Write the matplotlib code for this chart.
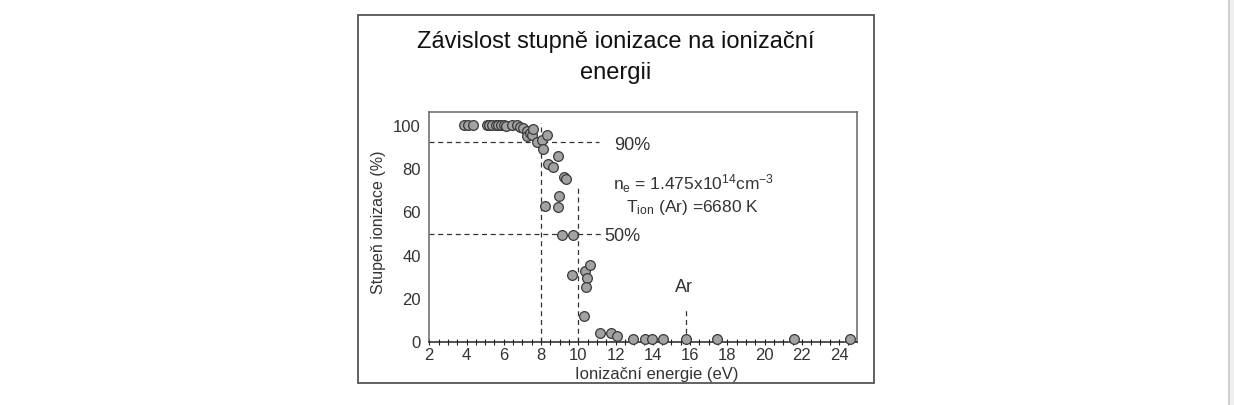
import matplotlib.pyplot as plt
from matplotlib.patches import Rectangle
from matplotlib.ticker import MultipleLocator

plt.rcParams['font.family'] = ['Liberation Sans', 'DejaVu Sans']

# ionizacni energie prvku (eV) a stupen ionizace (%)
energie = [3.87, 4.10, 4.34, 5.10, 5.21, 5.39, 5.57, 5.69, 5.85, 6.0, 6.11,
           6.42, 6.69, 6.87, 7.05, 7.23, 7.23, 7.4, 7.5, 7.58, 7.76, 8.03,
           8.09, 8.3, 8.23, 8.39, 8.66, 8.92, 8.98, 8.92, 9.23, 9.32, 9.1,
           9.73, 9.64, 10.36, 10.63, 10.45, 10.4, 10.32, 11.16, 11.74, 12.06,
           12.92, 13.58, 13.94, 14.53, 15.76, 17.42, 21.56, 24.59]
stupen = [100, 100, 100, 100, 100, 100, 100, 100, 99.8, 99.7, 99.6,
          99.9, 99.8, 98.8, 98.3, 97, 94.6, 96, 95.5, 98, 92, 93,
          88.7, 95.5, 62.4, 82, 80.4, 85.6, 67.3, 61.9, 75.8, 75, 49.3,
          49.3, 30.7, 32.7, 35.3, 29.3, 25, 11.9, 3.9, 3.9, 2.7,
          1.2, 1.2, 1.2, 1.2, 1.2, 1.2, 1.2, 1.2]

# vodici cary: (uroven, konec, popisek)
hladiny = [(92, 11.1, '90%'), (49.6, 11.2, '50%')]
svisle = [(8, 100.8), (10, 72), (15.76, 16)]

W, H = 1234, 406
fig = plt.figure(figsize=(W / 100, H / 100), dpi=100)
fig.patch.set_facecolor('white')

# ramecek kolem celeho grafu
fig.patches.append(Rectangle((358 / W, 1 - 384 / H), (874 - 358) / W, (384 - 16) / H,
                             transform=fig.transFigure, fill=False,
                             edgecolor='#555555', linewidth=1.3))
# okraj stranky vpravo
fig.patches.append(Rectangle((1229 / W, 0), 5 / W, 1, transform=fig.transFigure,
                             facecolor='#efefef', edgecolor='none'))
fig.lines.append(plt.Line2D([1229 / W, 1229 / W], [0, 1], transform=fig.transFigure,
                            color='#c8c8c8', linewidth=1.2))

ax = fig.add_axes([429.3 / W, 1 - 342.5 / H, (857 - 429.3) / W, (342.5 - 113) / H])
ax.set_xlim(2, 24.96)
ax.set_ylim(0, 105.9)

for sp in ['left', 'top', 'right']:
    ax.spines[sp].set_color('#666666')
    ax.spines[sp].set_linewidth(1.1)
ax.spines['bottom'].set_color('#222222')
ax.spines['bottom'].set_linewidth(1.1)

ax.xaxis.set_major_locator(MultipleLocator(2))
ax.xaxis.set_minor_locator(MultipleLocator(0.5))
ax.yaxis.set_major_locator(MultipleLocator(20))
ax.tick_params(axis='x', which='both', direction='inout', length=4, width=0.8,
               color='#222222', labelsize=12, labelcolor='#333333', pad=2)
ax.tick_params(axis='y', length=0, labelsize=12, labelcolor='#333333', pad=6)

dash = dict(color='#333333', linewidth=0.9, linestyle=(0, (4, 3)), zorder=1)
for uroven, konec, popisek in hladiny:
    ax.plot([2, konec], [uroven, uroven], **dash)
for x, vyska in svisle:
    ax.plot([x, x], [0, vyska], **dash)

ax.plot(energie, stupen, 'o', ms=7, mfc='#a2a2a2', mec='#3a3a3a', mew=0.9,
        zorder=3, clip_on=False)

ax.text(12.9, 91, '90%', fontsize=13, color='#333333', ha='center', va='center')
ax.text(12.35, 48.7, '50%', fontsize=13, color='#333333', ha='center', va='center')
ax.text(15.66, 25.6, 'Ar', fontsize=13, color='#333333', ha='center', va='center')
ax.text(16.2, 73.5, r'$\mathregular{n_e}$ = 1.475x10$\mathregular{^{14}}$cm$\mathregular{^{-3}}$',
        fontsize=12.5, color='#333333', ha='center', va='center')
ax.text(16.15, 62.5, r'$\mathregular{T_{ion}}$ (Ar) =6680 K',
        fontsize=12.5, color='#333333', ha='center', va='center')

fig.text(616 / W, 1 - 42 / H, 'Závislost stupně ionizace na ionizační',
         fontsize=17, color='#111111', ha='center', va='center')
fig.text(616 / W, 1 - 73 / H, 'energii',
         fontsize=17, color='#111111', ha='center', va='center')
fig.text(657 / W, 1 - 375 / H, 'Ionizační energie (eV)', fontsize=12,
         color='#333333', ha='center', va='center')
fig.text(379 / W, 1 - 222 / H, 'Stupeň ionizace (%)', fontsize=11.5,
         color='#333333', ha='center', va='center', rotation=90)

fig.savefig('out.png', dpi=100)
